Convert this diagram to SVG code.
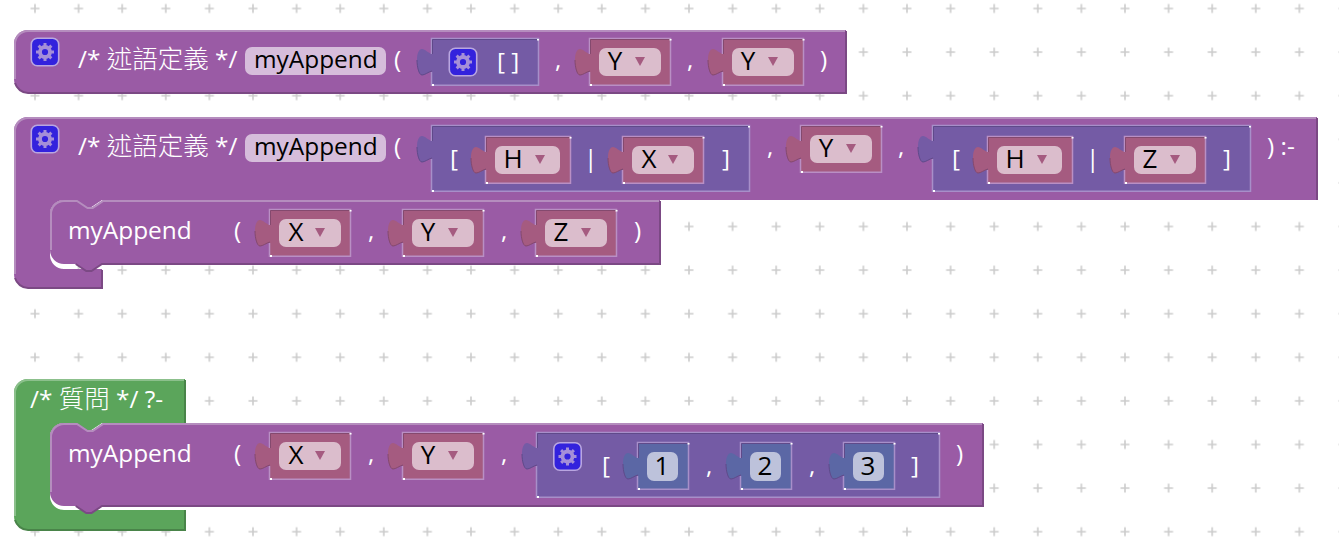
<svg xmlns="http://www.w3.org/2000/svg" xmlns:xlink="http://www.w3.org/1999/xlink" width="1339" height="551" viewBox="0 0 1339 551">
<style>
text{font-family:"Open Sans","Noto Sans CJK TC",sans-serif;font-size:24.4px}
.c{font-size:25.5px;font-family:"Noto Sans CJK TC",sans-serif;font-weight:300}
.w{fill:#fff}.k{fill:#000}
.m{font-size:26px;text-anchor:middle;fill:#000}
.pm{fill:#9a5ba5}.pg{fill:#5ba55b}.pl{fill:#745ba5}.pv{fill:#a55b80}.pn{fill:#5b67a5}
.hi{fill:none;stroke:#b58dbe;stroke-width:2}.lo{fill:none;stroke:#7b4984;stroke-width:2}
.hg{fill:none;stroke:#8cc08c;stroke-width:2}.lg{fill:none;stroke:#498449;stroke-width:2}
.d{fill:none;stroke:#5f4a8a;stroke-width:1}.t{fill:none;stroke:#5f4a8a;stroke-width:1}.u{fill:none;stroke:#a78fc9;stroke-width:1.500}
.dv{fill:none;stroke:#84496e;stroke-width:1}.tv{fill:none;stroke:#84496e;stroke-width:1}.uv{fill:none;stroke:#b98fc4;stroke-width:1.500}
.fv{fill:#dbbdcc}.fn{fill:#bdc2db}.fm{fill:#d6bddb}
.tri{fill:#a55b80}.dot{fill:#fff}
</style>
<defs>
<pattern id="grid" patternUnits="userSpaceOnUse" x="13.2" y="30.3" width="43.6" height="43.6">
<path d="M21.8,17.3V26.3M17.3,21.8H26.3" stroke="#ccc" stroke-width="1.6" fill="none"/>
</pattern>
<path id="tabrim" d="M-15,21c0,7,2,15,5,15c3,0,6,-3,10,-4"/>
<g id="gear">
<rect x="0.8" y="0.8" width="27.4" height="27.4" rx="6" fill="#3322dd" stroke="#b9a6e0" stroke-width="1.6"/>
<circle cx="14.5" cy="14.5" r="5" fill="none" stroke="#a58fd8" stroke-width="3.8"/>
<path d="M14.5,5.500V23.500M5.500,14.500H23.500M8.100,8.100L20.900,20.900M20.900,8.100L8.100,20.900" stroke="#a58fd8" stroke-width="3" stroke-dasharray="3 12 3"/>
</g>
<g id="var">
<path class="pv" d="M0,0H81V47H0V32c-4,1,-7,4,-10,4c-3,0,-5,-8,-5,-15c0,-7,2,-11,5,-11c3,0,6,4,10,5z"/>
<use xlink:href="#tabrim" href="#tabrim" class="tv"/>
<path class="uv" d="M-0.500,15V-0.500H80.500V46.250H-0.500V33"/>
<path class="dv" d="M0.500,15V0.500H80"/>
<rect class="fv" x="9" y="9" width="62" height="28" rx="7"/>
<path class="tri" d="M45,18h10l-5,9z"/>
<rect class="dot" x="79.500" y="0" width="2" height="1.500"/><rect class="dot" x="0" y="45" width="2" height="2"/>
</g>
<g id="varH">
<path class="pv" d="M0,0H85V47H0V32c-4,1,-7,4,-10,4c-3,0,-5,-8,-5,-15c0,-7,2,-11,5,-11c3,0,6,4,10,5z"/>
<use xlink:href="#tabrim" href="#tabrim" class="tv"/>
<path class="uv" d="M-0.500,15V-0.500H84.500V46.250H-0.500V33"/>
<path class="dv" d="M0.500,15V0.500H84"/>
<rect class="fv" x="9" y="9" width="65" height="28" rx="7"/>
<path class="tri" d="M49,18h10l-5,9z"/>
<rect class="dot" x="83.500" y="0" width="2" height="1.500"/><rect class="dot" x="0" y="45" width="2" height="2"/>
</g>
<g id="num">
<path class="pn" d="M0,0H51V47H0V32c-4,1,-7,4,-10,4c-3,0,-5,-8,-5,-15c0,-7,2,-11,5,-11c3,0,6,4,10,5z"/>
<use xlink:href="#tabrim" href="#tabrim" class="t"/>
<path class="u" d="M-0.500,15V-0.500H50.500V46.250H-0.500V33"/>
<path class="d" d="M0.500,15V0.500H50"/>
<rect class="fn" x="9" y="9" width="31" height="29" rx="7"/>
<rect class="dot" x="49.500" y="0" width="2" height="1.500"/><rect class="dot" x="0" y="45" width="2" height="2"/>
</g>
</defs>
<rect width="1339" height="551" fill="#fff"/>
<rect width="1339" height="551" fill="url(#grid)"/>

<g id="fact">
<path class="pm" d="M14,44a14,14 0 0 1 14,-14H846V93H28a14,14 0 0 1 -14,-14z"/>
<path class="hi" d="M15,79V44a13,13 0 0 1 13,-13H845"/>
<path class="lo" d="M846,31V93H28a14,14 0 0 1 -13,-10"/>
<use xlink:href="#gear" href="#gear" x="30.500" y="37.500"/>
<text class="w" x="78" y="68">/* <tspan class="c">述語定義</tspan> */</text>
<rect class="fm" x="245" y="47" width="141" height="28" rx="7"/>
<text class="k" x="254" y="68">myAppend</text>
<text class="w" x="394" y="68">(</text>
<text class="w" x="555" y="68">,</text>
<text class="w" x="687" y="68">,</text>
<text class="w" x="820" y="68">)</text>
<g id="fact-list" transform="translate(432,39)">
<path class="pl" d="M0,0H107V47H0V32c-4,1,-7,4,-10,4c-3,0,-5,-8,-5,-15c0,-7,2,-11,5,-11c3,0,6,4,10,5z"/>
<use xlink:href="#tabrim" href="#tabrim" class="t"/>
<path class="u" d="M-0.500,15V-0.500H106.500V46.250H-0.500V33"/>
<path class="d" d="M0.500,15V0.500H106"/>
<rect class="dot" x="105" y="0" width="2" height="1.500"/><rect class="dot" x="0" y="45" width="2" height="2"/>
<use xlink:href="#gear" href="#gear" x="16.500" y="8.500"/>
<text class="w" x="65" y="31">[ ]</text>
</g>
<g id="fact-y1" transform="translate(590,39)"><use xlink:href="#var" href="#var"/><text class="m" x="25" y="31">Y</text></g>
<g id="fact-y2" transform="translate(723,39)"><use xlink:href="#var" href="#var"/><text class="m" x="25" y="31">Y</text></g>
</g>

<g id="rule">
<path class="pm" d="M14,131a14,14 0 0 1 14,-14H1317V200H102l-10.500,7h-5.250l-10.500,-7H64a14,14 0 0 0 -14,14V255a14,14 0 0 0 14,14H102V288H28a14,14 0 0 1 -14,-14z"/>
<path class="hi" d="M15,274V131a13,13 0 0 1 13,-13H1316"/>
<path class="lo" d="M1317,118V200M102,270V288H28a14,14 0 0 1 -13,-10"/>
<use xlink:href="#gear" href="#gear" x="30.500" y="124.500"/>
<text class="w" x="78" y="155">/* <tspan class="c">述語定義</tspan> */</text>
<rect class="fm" x="245" y="134" width="141" height="28" rx="7"/>
<text class="k" x="254" y="155">myAppend</text>
<text class="w" x="394" y="155">(</text>
<text class="w" x="767" y="155">,</text>
<text class="w" x="898" y="155">,</text>
<text class="w" x="1267" y="155">) :-</text>
<g id="rule-list1" transform="translate(432,126)">
<path class="pl" d="M0,0H318V66H0V32c-4,1,-7,4,-10,4c-3,0,-5,-8,-5,-15c0,-7,2,-11,5,-11c3,0,6,4,10,5z"/>
<use xlink:href="#tabrim" href="#tabrim" class="t"/>
<path class="u" d="M-0.500,15V-0.500H317.500V65.250H-0.500V33"/>
<path class="d" d="M0.500,15V0.500H317"/>
<rect class="dot" x="316" y="0" width="2" height="1.500"/><rect class="dot" x="0" y="64" width="2" height="2"/>
<text class="w" x="18" y="41">[</text>
<text class="w" x="152" y="41">|</text>
<text class="w" x="290" y="41">]</text>
<g id="rule-h1" transform="translate(54,11)"><use xlink:href="#varH" href="#varH"/><text class="m" x="27" y="31">H</text></g>
<g id="rule-x1" transform="translate(191,11)"><use xlink:href="#var" href="#var"/><text class="m" x="26" y="31">X</text></g>
</g>
<g id="rule-y" transform="translate(801,126)"><use xlink:href="#var" href="#var"/><text class="m" x="25" y="31">Y</text></g>
<g id="rule-list2" transform="translate(933,126)">
<path class="pl" d="M0,0H318V66H0V32c-4,1,-7,4,-10,4c-3,0,-5,-8,-5,-15c0,-7,2,-11,5,-11c3,0,6,4,10,5z"/>
<use xlink:href="#tabrim" href="#tabrim" class="t"/>
<path class="u" d="M-0.500,15V-0.500H317.500V65.250H-0.500V33"/>
<path class="d" d="M0.500,15V0.500H317"/>
<rect class="dot" x="316" y="0" width="2" height="1.500"/><rect class="dot" x="0" y="64" width="2" height="2"/>
<text class="w" x="19" y="41">[</text>
<text class="w" x="153" y="41">|</text>
<text class="w" x="290" y="41">]</text>
<g id="rule-h2" transform="translate(55,11)"><use xlink:href="#varH" href="#varH"/><text class="m" x="27" y="31">H</text></g>
<g id="rule-z" transform="translate(192,11)"><use xlink:href="#var" href="#var"/><text class="m" x="25" y="31">Z</text></g>
</g>
</g>

<g id="rule-body">
<path class="pm" d="M50,214a14,14 0 0 1 14,-14h13l10.500,7h5.250l10.500,-7H660V264H102l-10.500,7h-5.250l-10.500,-7H64a14,14 0 0 1 -14,-14z"/>
<path class="hi" d="M51,250V214a13,13 0 0 1 13,-13h13l10.500,7h5.250l10.500,-7H659"/>
<path class="lo" d="M660,201V264H102l-10.500,7h-5.250l-10.500,-7"/>
<text class="w" x="68" y="239">myAppend</text>
<text class="w" x="234" y="239">(</text>
<text class="w" x="368" y="239">,</text>
<text class="w" x="501" y="239">,</text>
<text class="w" x="634" y="239">)</text>
<g id="body-x" transform="translate(270,210)"><use xlink:href="#var" href="#var"/><text class="m" x="26" y="31">X</text></g>
<g id="body-y" transform="translate(403,210)"><use xlink:href="#var" href="#var"/><text class="m" x="25" y="31">Y</text></g>
<g id="body-z" transform="translate(536,210)"><use xlink:href="#var" href="#var"/><text class="m" x="25" y="31">Z</text></g>
</g>

<g id="query">
<path class="pg" d="M14,393a14,14 0 0 1 14,-14H185V423H102l-10.500,7h-5.250l-10.500,-7H64a14,14 0 0 0 -14,14V496a14,14 0 0 0 14,14H185V530H28a14,14 0 0 1 -14,-14z"/>
<path class="hg" d="M15,516V393a13,13 0 0 1 13,-13H184"/>
<path class="lg" d="M185,380V423M185,510V530H28a14,14 0 0 1 -13,-10"/>
<text class="w" x="30" y="408">/* <tspan class="c">質問</tspan> */ ?-</text>
</g>

<g id="query-body">
<path class="pm" d="M50,437a14,14 0 0 1 14,-14h13l10.500,7h5.250l10.500,-7H983V506H102l-10.500,7h-5.250l-10.500,-7H64a14,14 0 0 1 -14,-14z"/>
<path class="hi" d="M51,492V437a13,13 0 0 1 13,-13h13l10.500,7h5.250l10.500,-7H982"/>
<path class="lo" d="M983,424V506H102l-10.500,7h-5.250l-10.500,-7"/>
<text class="w" x="68" y="462">myAppend</text>
<text class="w" x="234" y="462">(</text>
<text class="w" x="368" y="462">,</text>
<text class="w" x="501" y="462">,</text>
<text class="w" x="956" y="462">)</text>
<g id="q-x" transform="translate(270,433)"><use xlink:href="#var" href="#var"/><text class="m" x="26" y="31">X</text></g>
<g id="q-y" transform="translate(403,433)"><use xlink:href="#var" href="#var"/><text class="m" x="25" y="31">Y</text></g>
<g id="q-list" transform="translate(537,433)">
<path class="pl" d="M0,0H403V65H0V32c-4,1,-7,4,-10,4c-3,0,-5,-8,-5,-15c0,-7,2,-11,5,-11c3,0,6,4,10,5z"/>
<use xlink:href="#tabrim" href="#tabrim" class="t"/>
<path class="u" d="M-0.500,15V-0.500H402.500V64.250H-0.500V33"/>
<path class="d" d="M0.500,15V0.500H402"/>
<rect class="dot" x="401" y="0" width="2" height="1.500"/><rect class="dot" x="0" y="63" width="2" height="2"/>
<use xlink:href="#gear" href="#gear" x="16" y="9"/>
<text class="w" x="65" y="41">[</text>
<text class="w" x="169" y="41">,</text>
<text class="w" x="272" y="41">,</text>
<text class="w" x="374" y="41">]</text>
<g id="q-1" transform="translate(101,10)"><use xlink:href="#num" href="#num"/><text class="m" x="24" y="32">1</text></g>
<g id="q-2" transform="translate(204,10)"><use xlink:href="#num" href="#num"/><text class="m" x="24" y="32">2</text></g>
<g id="q-3" transform="translate(307,10)"><use xlink:href="#num" href="#num"/><text class="m" x="24" y="32">3</text></g>
</g>
</g>
<g id="connectors"/>
</svg>
